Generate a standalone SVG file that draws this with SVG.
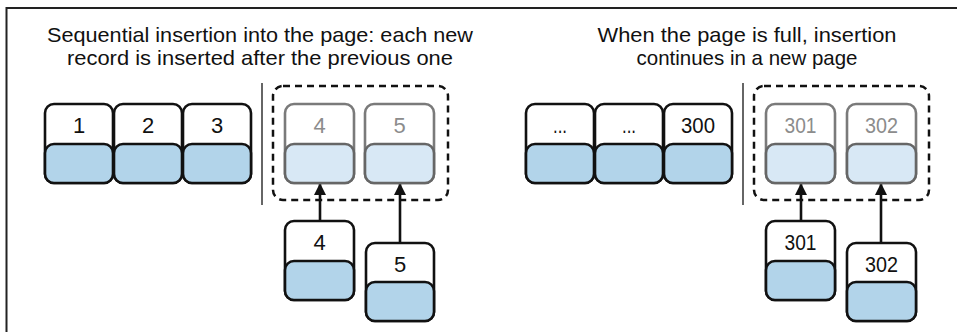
<svg xmlns="http://www.w3.org/2000/svg" width="957" height="332" viewBox="0 0 957 332">
<defs>
<style>
.title{font-family:"Liberation Sans",Arial,sans-serif;font-size:21px;fill:#111;text-anchor:middle}
.num{font-family:"Liberation Sans",Arial,sans-serif;font-size:22px;fill:#111;text-anchor:middle}
.ghost-num{font-family:"Liberation Sans",Arial,sans-serif;font-size:22px;fill:#8c8c8c;text-anchor:middle}
.top{fill:#fff;stroke:#111;stroke-width:2.6}
.bot{fill:#b2d4ea;stroke:#111;stroke-width:2.6}
.gtop{fill:#fff;stroke:#7a7a7a;stroke-width:2.6}
.gbot{fill:#d8e8f5;stroke:#666;stroke-width:2.6}
.dash{fill:none;stroke:#111;stroke-width:2.5;stroke-dasharray:7 5}
.div{stroke:#333;stroke-width:1.5}
.conn{stroke:#111;stroke-width:2.6;fill:none}
</style>
<marker id="ah" markerUnits="userSpaceOnUse" markerWidth="12" markerHeight="12" viewBox="0 0 12 12" refX="12" refY="6" orient="auto">
<path d="M0,0 L12,6 L0,12 z" fill="#111"/>
</marker>
</defs>

<path d="M6.5,332 V8 H957" fill="none" stroke="#222" stroke-width="2"/>

<text class="title" x="260" y="42" textLength="426" lengthAdjust="spacingAndGlyphs">Sequential insertion into the page: each new</text>
<text class="title" x="260" y="65" textLength="386" lengthAdjust="spacingAndGlyphs">record is inserted after the previous one</text>
<text class="title" x="747" y="42" textLength="299" lengthAdjust="spacingAndGlyphs">When the page is full, insertion</text>
<text class="title" x="747" y="65" textLength="221" lengthAdjust="spacingAndGlyphs">continues in a new page</text>

<line class="div" x1="262" y1="83" x2="262" y2="205"/>
<line class="div" x1="743" y1="83" x2="743" y2="205"/>
<rect class="dash" x="273" y="86" width="175" height="114" rx="10"/>
<rect class="dash" x="754" y="86" width="175" height="114" rx="10"/>

<g id="conn">
<line class="conn" x1="320" y1="221" x2="320" y2="183" marker-end="url(#ah)"/>
<line class="conn" x1="400" y1="243" x2="400" y2="183" marker-end="url(#ah)"/>
<line class="conn" x1="801" y1="221" x2="801" y2="183" marker-end="url(#ah)"/>
<line class="conn" x1="881" y1="243" x2="881" y2="183" marker-end="url(#ah)"/>
</g>

<g id="r1"><rect class="top" x="45" y="104" width="68" height="79" rx="9"/><rect class="bot" x="45" y="144" width="68" height="39" rx="9"/><text class="num" x="79" y="133">1</text></g>
<g id="r2"><rect class="top" x="114" y="104" width="68" height="79" rx="9"/><rect class="bot" x="114" y="144" width="68" height="39" rx="9"/><text class="num" x="148" y="133">2</text></g>
<g id="r3"><rect class="top" x="183" y="104" width="68" height="79" rx="9"/><rect class="bot" x="183" y="144" width="68" height="39" rx="9"/><text class="num" x="217" y="133">3</text></g>
<g id="g4"><rect class="gtop" x="285" y="104" width="69" height="79" rx="9"/><rect class="gbot" x="285" y="144" width="69" height="39" rx="9"/><text class="ghost-num" x="319.5" y="133">4</text></g>
<g id="g5"><rect class="gtop" x="365" y="104" width="69" height="79" rx="9"/><rect class="gbot" x="365" y="144" width="69" height="39" rx="9"/><text class="ghost-num" x="399.5" y="133">5</text></g>
<g id="n4"><rect class="top" x="285" y="221" width="69" height="79" rx="9"/><rect class="bot" x="285" y="261" width="69" height="39" rx="9"/><text class="num" x="319.5" y="250">4</text></g>
<g id="n5"><rect class="top" x="366" y="243" width="68" height="78" rx="9"/><rect class="bot" x="366" y="282" width="68" height="39" rx="9"/><text class="num" x="400" y="272">5</text></g>

<g id="r298"><rect class="top" x="526" y="104" width="68" height="79" rx="9"/><rect class="bot" x="526" y="144" width="68" height="39" rx="9"/><text class="num" x="560" y="133" textLength="14" lengthAdjust="spacingAndGlyphs">...</text></g>
<g id="r299"><rect class="top" x="595" y="104" width="68" height="79" rx="9"/><rect class="bot" x="595" y="144" width="68" height="39" rx="9"/><text class="num" x="629" y="133" textLength="14" lengthAdjust="spacingAndGlyphs">...</text></g>
<g id="r300"><rect class="top" x="664" y="104" width="68" height="79" rx="9"/><rect class="bot" x="664" y="144" width="68" height="39" rx="9"/><text class="num" x="698" y="133" textLength="34" lengthAdjust="spacingAndGlyphs">300</text></g>
<g id="g301"><rect class="gtop" x="766" y="104" width="69" height="79" rx="9"/><rect class="gbot" x="766" y="144" width="69" height="39" rx="9"/><text class="ghost-num" x="800.5" y="133" textLength="32" lengthAdjust="spacingAndGlyphs">301</text></g>
<g id="g302"><rect class="gtop" x="847" y="104" width="69" height="79" rx="9"/><rect class="gbot" x="847" y="144" width="69" height="39" rx="9"/><text class="ghost-num" x="881.5" y="133" textLength="33" lengthAdjust="spacingAndGlyphs">302</text></g>
<g id="n301"><rect class="top" x="766" y="221" width="69" height="79" rx="9"/><rect class="bot" x="766" y="261" width="69" height="39" rx="9"/><text class="num" x="800.5" y="250" textLength="32" lengthAdjust="spacingAndGlyphs">301</text></g>
<g id="n302"><rect class="top" x="847" y="243" width="69" height="78" rx="9"/><rect class="bot" x="847" y="282" width="69" height="39" rx="9"/><text class="num" x="881.5" y="272" textLength="33" lengthAdjust="spacingAndGlyphs">302</text></g>
</svg>
